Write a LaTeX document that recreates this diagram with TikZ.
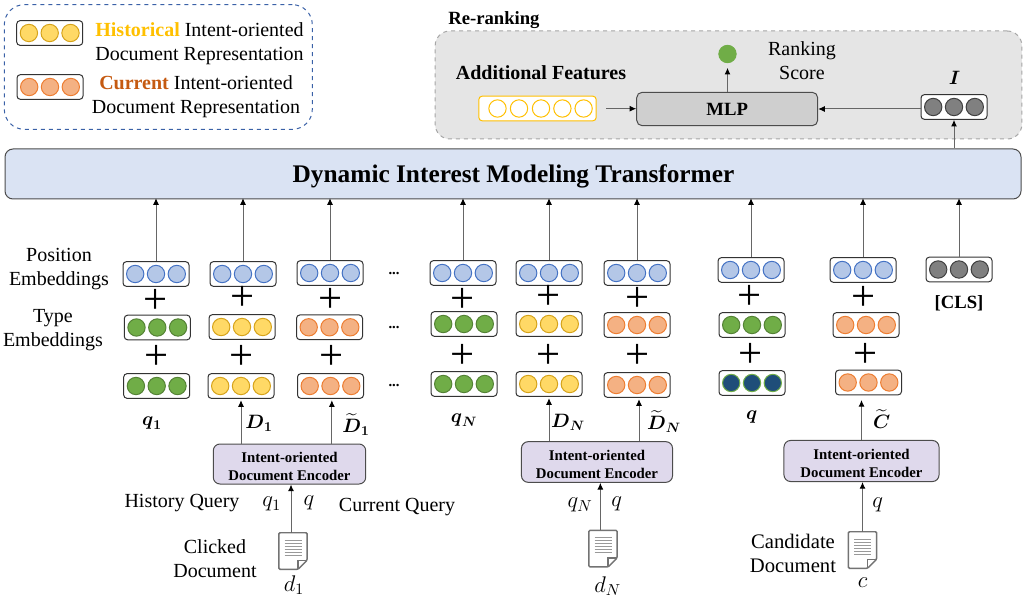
\documentclass[tikz,border=0pt]{standalone}
\usepackage{fix-cm}
\usepackage{amsmath}
\usepackage{fontspec}
\setmainfont{Liberation Serif}
\usetikzlibrary{calc}
\usetikzlibrary{arrows.meta}
\definecolor{blueedge}{HTML}{4472C4}
\definecolor{bluefill}{HTML}{B4C7E7}
\definecolor{greenedge}{HTML}{548235}
\definecolor{greenfill}{HTML}{70AD47}
\definecolor{yellowedge}{HTML}{D6A31A}
\definecolor{yellowfill}{HTML}{FFD966}
\definecolor{orangeedge}{HTML}{ED7D31}
\definecolor{orangefill}{HTML}{F4B183}
\definecolor{navyfill}{HTML}{1F4E79}
\definecolor{histyellow}{HTML}{FFC000}
\definecolor{currorange}{HTML}{C55A11}
\definecolor{transfill}{HTML}{DAE3F3}
\definecolor{encfill}{HTML}{DFD9EC}
\newcommand{\bsym}[1]{\boldsymbol{#1}}
\newcommand{\enctext}{\rule{0pt}{11.7pt}Intent-oriented\\Document Encoder}
\tikzset{
	embbox/.style={draw=black!80, fill=white, rounded corners=2.5pt, line width=0.75pt, minimum width=49.5pt, minimum height=18.5pt, inner sep=0pt},
	embdot/.style={circle, line width=0.75pt, minimum size=13pt, inner sep=0pt},
	bluedot/.style={embdot, draw=blueedge, fill=bluefill},
	greendot/.style={embdot, draw=greenedge, fill=greenfill},
	yellowdot/.style={embdot, draw=yellowedge, fill=yellowfill},
	orangedot/.style={embdot, draw=orangeedge, fill=orangefill},
	navydot/.style={embdot, draw=greenfill, fill=navyfill},
	graydot/.style={embdot, draw=black!75, fill=black!50},
	flowarrow/.style={draw=black!60, line width=0.75pt, -{Latex[black,length=5pt,width=4.5pt]}},
	lbl/.style={font=\fontsize{15}{18}\selectfont, align=center, inner sep=0pt},
	boldlbl/.style={font=\fontsize{14}{18}\selectfont\bfseries, align=center, inner sep=0pt},
	plussign/.style={font=\fontsize{32}{32}\selectfont, inner sep=0pt},
	dotssign/.style={font=\fontsize{11}{11}\selectfont\bfseries, inner sep=0pt},
	encbox/.style={draw=black!70, fill=encfill, rounded corners=5pt, line width=0.75pt, inner sep=0pt, align=center, font=\fontsize{11.1}{13.5}\selectfont\bfseries},
	docbox/.style={minimum width=20.7pt, minimum height=27pt, inner sep=0pt},
	docline/.style={draw=black!55, line width=1.1pt, fill=white, rounded corners=0.8pt},
	symlbl/.style={font=\fontsize{17}{20}\selectfont, inner sep=0pt},
	veclbl/.style={font=\fontsize{14.5}{18}\selectfont, inner sep=0pt},
}
\newcommand{\embrow}[4]{%
	\node[embbox] (#1) at (#2,#3) {};
	\foreach \k [count=\i] in {-1,0,1}
		\node[#4] (#1-\i) at ($(#1)+(\k*20.8,0)$) {};
}
\newcommand{\docicon}[3]{%
	\node[docbox] (#1) at (#2,#3) {};
	\draw[docline] (#1.north west) -- (#1.north east) -- ($(#1.south east)+(0,-9)$) -- ($(#1.south east)+(-9,0)$) -- (#1.south west) -- cycle;
	\draw[draw=black!55, line width=0.9pt] ($(#1.south east)+(0,-9)$) -- ($(#1.south east)+(-9,-9)$) -- ($(#1.south east)+(-9,0)$);
	\foreach \k in {-11,-8,-5,-2,1,4}
		\draw[draw=black!40, line width=0.7pt] ($(#1)+(-8.5,\k)$) -- ($(#1)+(8.5,\k)$);
}

\begin{document}
\begin{tikzpicture}[x=0.75pt, y=-0.75pt]
	\useasboundingbox (0,0) rectangle (1023,598);

	% legend
	\node[draw=blueedge!85!black, dashed, rounded corners=15pt, line width=0.75pt, minimum width=231pt, minimum height=93.5pt, inner sep=0pt] (legend) at (158.3,67) {};
	\embrow{legyellow}{49.7}{33}{yellowdot}
	\embrow{legorange}{50}{87}{orangedot}
	\node[lbl] (leghist) at (199.5,44) {\textcolor{histyellow}{\textbf{Historical}} Intent-oriented\\Document Representation};
	\node[lbl] (legcurr) at (196,97) {\textcolor{currorange}{\textbf{Current}} Intent-oriented\\Document Representation};

	% re-ranking
	\node[boldlbl, anchor=west] (reranklbl) at (448,20) {Re-ranking};
	\node[draw=black!35, fill=black!10, dashed, rounded corners=11pt, line width=0.75pt, minimum width=440pt, minimum height=81pt, inner sep=0pt] (rerank) at (728.5,85) {};
	\node[boldlbl, font=\fontsize{15}{18}\selectfont\bfseries] (addlbl) at (541,73) {Additional Features};
	\node[embbox, draw=histyellow, minimum width=88pt] (addbox) at (537.5,108.5) {};
	\foreach \x [count=\i] in {497.5,519,541,562.4,583.6}
		\node[embdot, draw=histyellow, fill=white] (add-\i) at (\x,108.5) {};
	\coordinate (addout) at (606,108.7);
	\node[draw=black!70, fill=black!19, rounded corners=4pt, line width=0.75pt, minimum width=135.7pt, minimum height=25pt, inner sep=0pt, font=\fontsize{14}{18}\selectfont\bfseries] (mlp) at (727.2,109) {MLP};
	\node[greendot, draw=greenfill] (score) at (727.5,54) {};
	\node[lbl] (scorelbl) at (802,61) {Ranking\\Score};
	\embrow{ivec}{954}{107}{graydot}
	\node[veclbl] (ilbl) at (954.6,78) {$\bsym{I}$};
	\draw[flowarrow] (addout) -- (addout -| mlp.west);
	\draw[flowarrow] (ivec.west |- mlp) -- (mlp.east);
	\draw[flowarrow] (mlp.north -| score) -- ([yshift=-3.5pt]score.south);

	% transformer
	\node[draw=black!70, fill=transfill, rounded corners=6pt, line width=0.75pt, minimum width=762pt, minimum height=37.5pt, inner sep=0pt] (trans) at (513,174) {};
	\node[inner sep=0pt, font=\fontsize{19}{22}\selectfont\bfseries] (transtext) at (513.5,176) {Dynamic Interest Modeling Transformer};
	\draw[flowarrow] (trans.north -| ivec) -- (ivec.south);

	% embedding rows
	\foreach \nm/\x/\y/\sty in {
		pos1/156/274/bluedot, pos2/243/274/bluedot, pos3/330/273/bluedot, pos4/463/273/bluedot,
		pos5/549/273/bluedot, pos6/637/273/bluedot, pos7/751/270/bluedot, pos8/863/270/bluedot,
		typ1/157.3/327.5/greendot, typ2/242/327/yellowdot, typ3/329.5/327.3/orangedot, typ4/464/324/greendot,
		typ5/549/324/yellowdot, typ6/637/325/orangedot, typ7/752/325/greendot, typ8/866/325/orangedot,
		bot1/156.7/386/greendot, bot2/241/386/yellowdot, bot3/330.5/386/orangedot, bot4/464/384/greendot,
		bot5/549/384/yellowdot, bot6/637/385/orangedot, bot7/752/383/navydot, bot8/868.5/382.5/orangedot,
		cls/959/269.5/graydot}
		{\embrow{\nm}{\x}{\y}{\sty}}

	\foreach \nm in {pos1,pos2,pos3,pos4,pos5,pos6,pos7,pos8,cls}
		\draw[flowarrow] (\nm.north) -- ([yshift=1pt]\nm.north |- trans.south);

	\foreach \x/\y [count=\i] in {156/301, 156.7/357.7, 242.7/298.7, 241.3/357, 330.7/300, 331.3/357.7,
		463/300, 463/356, 549/297, 549/356, 638/299, 638/356, 750/297.7, 750.7/355, 863.7/298.7, 865.7/355}
		\node[plussign] (plus\i) at (\x,\y) {+};
	\foreach \y [count=\i] in {274,328,386}
		\node[dotssign] (dots\i) at (394,\y) {...};

	\node[lbl] (poslbl) at (59,269) {Position\\Embeddings};
	\node[lbl] (typelbl) at (53,330) {Type\\Embeddings};
	\node[boldlbl] (clslbl) at (959,303) {[CLS]};

	% bold labels under the rows
	\foreach \x/\y/\txt [count=\i] in {
		152/423/{\bsym{q}_{\bsym{1}}}, 259/423/{\bsym{D}_{\bsym{1}}}, 356/425/{\widetilde{\bsym{D}}_{\bsym{1}}},
		464/420/{\bsym{q}_{\bsym{N}}}, 568/422/{\bsym{D}_{\bsym{N}}}, 664/422/{\widetilde{\bsym{D}}_{\bsym{N}}},
		751.7/417/{\bsym{q}}, 881.7/419/{\widetilde{\bsym{C}}}}
		\node[veclbl] (vec\i) at (\x,\y) {$\txt$};

	% encoders
	\node[encbox, minimum width=114.3pt, minimum height=30pt] (enc1) at (289.5,464) {\enctext};
	\node[encbox, minimum width=113.3pt, minimum height=30.5pt] (enc2) at (597,462) {\enctext};
	\node[encbox, minimum width=116.3pt, minimum height=30.8pt] (enc3) at (861.5,461) {\enctext};

	\draw[flowarrow, shorten >=1pt] (enc1.north -| bot2) -- (bot2.south);
	\draw[flowarrow, shorten >=1pt] ([xshift=1pt]enc1.north -| bot3) -- ([xshift=1pt]bot3.south);
	\draw[flowarrow, shorten >=1pt] (enc2.north -| bot5) -- (bot5.south);
	\draw[flowarrow, shorten >=1pt] ([xshift=1.5pt]enc2.north -| bot6) -- ([xshift=1.5pt]bot6.south);
	\draw[flowarrow, shorten >=3.5pt] (enc3.north) -- (enc3.north |- bot8.south);

	% documents
	\docicon{doc1}{293}{551}
	\docicon{doc2}{603}{548.7}
	\docicon{doc3}{862.5}{550}
	\draw[flowarrow] ([xshift=-1.5pt]doc1.north) -- ([xshift=-1.5pt]doc1.north |- enc1.south);
	\draw[flowarrow] ([xshift=-2pt]doc2.north) -- ([xshift=-2pt]doc2.north |- enc2.south);
	\draw[flowarrow] (doc3.north) -- (doc3.north |- enc3.south);

	\node[lbl] (histq) at (182,503.5) {History Query};
	\node[lbl] (currq) at (397,507) {Current Query};
	\node[lbl] (clicked) at (215,558.5) {Clicked\\Document};
	\node[lbl, font=\fontsize{15.5}{18}\selectfont] (cand) at (793,553.5) {Candidate\\Document};

	\foreach \x/\y/\txt [count=\i] in {271.7/504/{q_1}, 309/503/{q}, 294/585/{d_1}, 580/505/{q_N}, 616.7/504/{q},
		607.7/586/{d_N}, 877.7/505/{q}, 862.7/583/{c}}
		\node[symlbl] (sym\i) at (\x,\y) {$\txt$};
\end{tikzpicture}
\end{document}
